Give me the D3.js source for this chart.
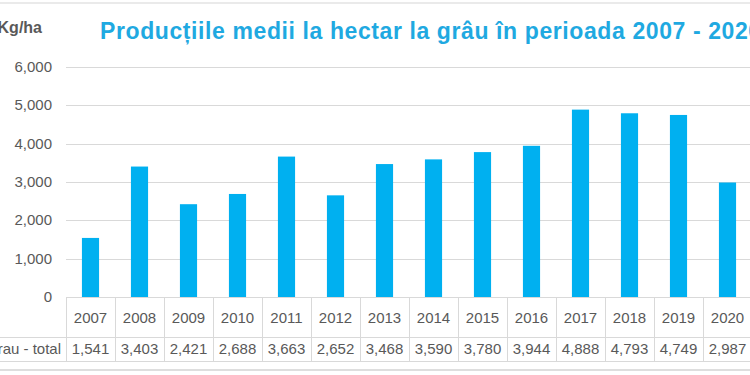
<!DOCTYPE html>
<html>
<head>
<meta charset="utf-8">
<script src="https://cdn.jsdelivr.net/npm/d3@7"></script>
<style>
  body { margin: 0; background: #fff; }
  text { font-family: "Liberation Sans", Arial, sans-serif; }
</style>
</head>
<body>
<div id="chart"></div>
<script>
// data
var years = ["2007", "2008", "2009", "2010", "2011", "2012", "2013", "2014", "2015", "2016", "2017", "2018", "2019", "2020"];
var values = [1541, 3403, 2421, 2688, 3663, 2652, 3468, 3590, 3780, 3944, 4888, 4793, 4749, 2987];
var yTicks = [0, 1000, 2000, 3000, 4000, 5000, 6000];
var seriesName = "Grau - total";
var title = "Producțiile medii la hectar la grâu în perioada 2007 - 2020";

function init() {
    var width = 750;
    var height = 375;

    var svg = d3.select("#chart")
        .append("svg")
        .attr("width", width)
        .attr("height", height);

    var x = d3.scaleBand()
        .domain(years)
        .range([66, 66 + 49 * years.length])
        .paddingInner(0.65)
        .paddingOuter(0.325);

    // cells of the data table
    var cell = d3.scaleBand()
        .domain(years)
        .range([66, 66 + 49 * years.length]);

    var y = d3.scaleLinear()
        .domain([0, 6000])
        .range([297, 67]);

    var grey = "#595959";
    var lineCol = "#d9d9d9";

    // frame lines
    svg.append("line").attr("x1", 0).attr("x2", width).attr("y1", 3).attr("y2", 3)
        .attr("stroke", "#e3e3e3").attr("stroke-width", 1.5);
    svg.append("line").attr("x1", 0).attr("x2", width).attr("y1", 370).attr("y2", 370)
        .attr("stroke", "#dedede").attr("stroke-width", 2);

    // gridlines
    svg.selectAll(".grid")
        .data(yTicks.filter(d => d > 0))
        .enter()
        .append("line")
        .attr("class", "grid")
        .attr("x1", 66)
        .attr("x2", width)
        .attr("y1", d => Math.round(y(d)) + 0.5)
        .attr("y2", d => Math.round(y(d)) + 0.5)
        .attr("stroke", lineCol);

    // y axis labels
    svg.selectAll(".ytick")
        .data(yTicks)
        .enter()
        .append("text")
        .attr("class", "ytick")
        .attr("x", 52)
        .attr("y", d => y(d) + 5)
        .attr("text-anchor", "end")
        .style("font-size", "15px")
        .style("fill", grey)
        .text(d => d3.format(",")(d));

    // bars
    svg.selectAll(".bar")
        .data(values)
        .enter()
        .append("rect")
        .attr("class", "bar")
        .attr("x", (d, i) => x(years[i]))
        .attr("width", x.bandwidth())
        .attr("y", d => y(d))
        .attr("height", d => y(0) - y(d))
        .style("fill", "#00b0f0");

    // table
    var t0 = 297, t1 = 337, t2 = 361;
    [t1, t2].forEach(function (ty) {
        svg.append("line").attr("x1", 0).attr("x2", width)
            .attr("y1", ty + 0.5).attr("y2", ty + 0.5).attr("stroke", lineCol);
    });
    svg.append("line").attr("x1", 66).attr("x2", width)
        .attr("y1", t0 + 0.5).attr("y2", t0 + 0.5).attr("stroke", lineCol);

    svg.selectAll(".vline")
        .data(years)
        .enter()
        .append("line")
        .attr("class", "vline")
        .attr("x1", d => Math.round(cell(d)) + 0.5)
        .attr("x2", d => Math.round(cell(d)) + 0.5)
        .attr("y1", t0)
        .attr("y2", t2)
        .attr("stroke", lineCol);

    svg.selectAll(".year")
        .data(years)
        .enter()
        .append("text")
        .attr("class", "year")
        .attr("x", d => cell(d) + cell.bandwidth() / 2)
        .attr("y", 323)
        .attr("text-anchor", "middle")
        .style("font-size", "15px")
        .style("fill", grey)
        .text(d => d);

    svg.selectAll(".val")
        .data(values)
        .enter()
        .append("text")
        .attr("class", "val")
        .attr("x", (d, i) => cell(years[i]) + cell.bandwidth() / 2)
        .attr("y", 354)
        .attr("text-anchor", "middle")
        .style("font-size", "15px")
        .style("fill", grey)
        .text(d => d3.format(",")(d));

    svg.append("text")
        .attr("x", 61)
        .attr("y", 354)
        .attr("text-anchor", "end")
        .style("font-size", "15px")
        .style("fill", grey)
        .text(seriesName);

    // unit label and title
    svg.append("text")
        .attr("x", 42)
        .attr("y", 33)
        .attr("text-anchor", "end")
        .style("font-size", "16px")
        .style("font-weight", "bold")
        .style("fill", grey)
        .text("Kg/ha");

    svg.append("text")
        .attr("x", 100)
        .attr("y", 38.5)
        .style("font-size", "23px")
        .style("letter-spacing", "0.6px")
        .style("font-weight", "bold")
        .style("fill", "#1fa9e1")
        .text(title);
}

window.onload = init;
</script>
</body>
</html>
